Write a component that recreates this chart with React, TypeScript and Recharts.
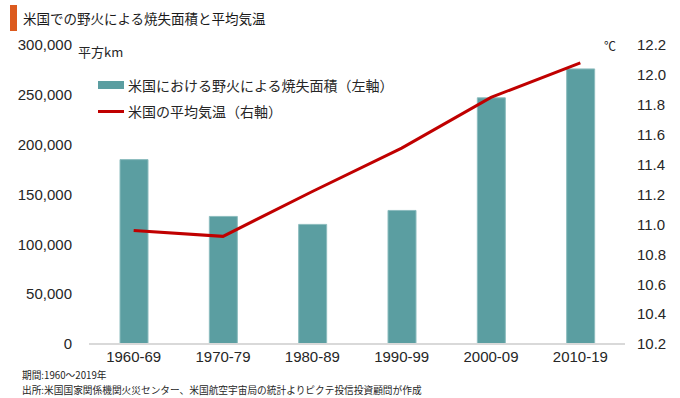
import {
  ComposedChart,
  Bar,
  Line,
  XAxis,
  YAxis,
  Legend,
} from 'recharts';

const PERIODS = ['1960-69', '1970-79', '1980-89', '1990-99', '2000-09', '2010-19'];
const BURNED_AREA = [185000, 128000, 120000, 134000, 247000, 276000];
const AVG_TEMP = [10.96, 10.92, 11.22, 11.51, 11.85, 12.08];
const AREA_TICKS = [0, 50000, 100000, 150000, 200000, 250000, 300000];
const TEMP_TICKS = [10.2, 10.4, 10.6, 10.8, 11.0, 11.2, 11.4, 11.6, 11.8, 12.0, 12.2];

const AREA_LABEL = '米国における野火による焼失面積（左軸）';
const TEMP_LABEL = '米国の平均気温（右軸）';

const BAR_COLOR = '#5b9ea1';
const LINE_COLOR = '#c00000';
const TEXT = '#262626';
const JP_FONT = '"Noto Sans CJK JP", sans-serif';
const NUM_FONT = '"Liberation Sans", Arial, sans-serif';

const data = PERIODS.map((p, i) => ({
  period: p,
  area: BURNED_AREA[i],
  temp: AVG_TEMP[i],
}));

function LegendBox() {
  const row = { display: 'flex', alignItems: 'center', height: 26 };
  const label = { fontFamily: JP_FONT, fontSize: 14, color: TEXT, marginLeft: 4 };
  return (
    <div>
      <div style={row}>
        <span style={{ width: 26, height: 8, background: BAR_COLOR, display: 'inline-block' }} />
        <span style={label}>{AREA_LABEL}</span>
      </div>
      <div style={row}>
        <span style={{ width: 26, height: 3, background: LINE_COLOR, display: 'inline-block' }} />
        <span style={label}>{TEMP_LABEL}</span>
      </div>
    </div>
  );
}

export default function App() {
  return (
    <div style={{ position: 'absolute', left: 0, top: 0, width: 680, height: 398, background: '#fff' }}>
      <div style={{ position: 'absolute', left: 10, top: 5, width: 7, height: 26, background: '#dc5a1e' }} />
      <div
        style={{
          position: 'absolute', left: 23, top: 8, fontFamily: JP_FONT, fontSize: 13.5,
          color: '#1a1a1a', lineHeight: '20px', whiteSpace: 'nowrap',
        }}
      >
        米国での野火による焼失面積と平均気温
      </div>
      <div style={{ position: 'absolute', left: 78, top: 43, fontFamily: JP_FONT, fontSize: 13, color: TEXT, lineHeight: '18px' }}>
        平方km
      </div>
      <div style={{ position: 'absolute', left: 604, top: 37, fontFamily: JP_FONT, fontSize: 12, color: TEXT, lineHeight: '18px' }}>
        ℃
      </div>
      <ComposedChart
        width={680}
        height={398}
        data={data}
        margin={{ top: 45, right: 0, bottom: 0, left: 0 }}
        barSize={28}
      >
        <XAxis
          dataKey="period"
          axisLine={{ stroke: '#d9d9d9', strokeWidth: 2 }}
          tickLine={false}
          tickMargin={1}
          tick={{ fill: TEXT, fontSize: 15, fontFamily: NUM_FONT }}
          interval={0}
          height={54}
        />
        <YAxis
          yAxisId="left"
          domain={[0, 300000]}
          ticks={AREA_TICKS}
          interval={0}
          axisLine={false}
          tickLine={false}
          tickMargin={11}
          width={89}
          tickFormatter={(v: number) => v.toLocaleString('en-US')}
          tick={{ fill: TEXT, fontSize: 15, fontFamily: NUM_FONT }}
        />
        <YAxis
          yAxisId="right"
          orientation="right"
          domain={[10.2, 12.2]}
          ticks={TEMP_TICKS}
          interval={0}
          axisLine={false}
          tickLine={false}
          tickMargin={6}
          width={55}
          tickFormatter={(v: number) => v.toFixed(1)}
          tick={{ fill: TEXT, fontSize: 15, fontFamily: NUM_FONT }}
        />
        <Legend
          layout="vertical"
          verticalAlign="middle"
          align="center"
          content={() => <LegendBox />}
          wrapperStyle={{ position: 'absolute', left: 98, top: 72, width: 320 }}
        />
        <Bar
          yAxisId="left"
          dataKey="area"
          name={AREA_LABEL}
          fill={BAR_COLOR}
          stroke="#8cbcbe"
          strokeWidth={1}
          isAnimationActive={false}
        />
        <Line
          yAxisId="right"
          dataKey="temp"
          name={TEMP_LABEL}
          stroke={LINE_COLOR}
          strokeWidth={3}
          dot={false}
          activeDot={false}
          type="linear"
          isAnimationActive={false}
        />
      </ComposedChart>
      <div
        style={{
          position: 'absolute', left: 22, top: 368, fontFamily: JP_FONT, fontSize: 9.7,
          color: TEXT, lineHeight: '15px', whiteSpace: 'nowrap',
        }}
      >
        <div>期間:1960～2019年</div>
        <div>出所:米国国家関係機関火災センター、米国航空宇宙局の統計よりピクテ投信投資顧問が作成</div>
      </div>
    </div>
  );
}
